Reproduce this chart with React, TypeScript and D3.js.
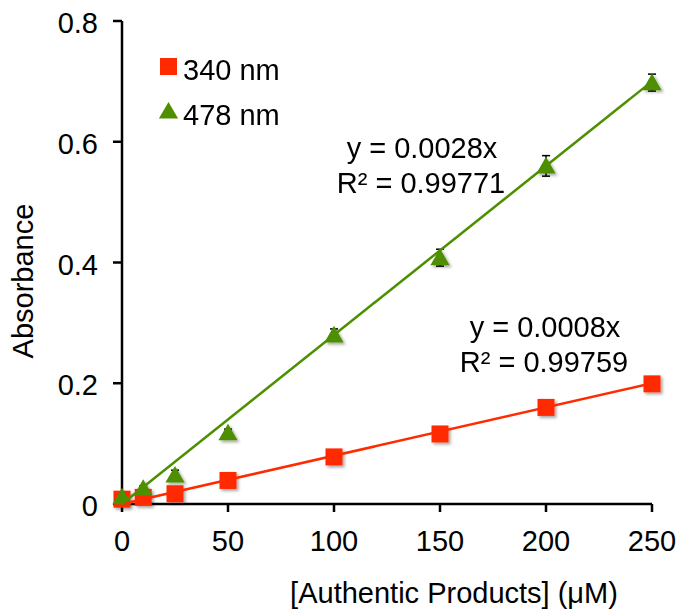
import React from "react";
import * as d3 from "d3";

// concentrations (µM)
const conc = [0, 10, 25, 50, 100, 150, 200, 250];
// absorbance at 340 nm
const abs340 = [0.008, 0.011, 0.017, 0.039, 0.078, 0.116, 0.16, 0.199];
const err340 = [0.002, 0.002, 0.002, 0.003, 0.003, 0.004, 0.004, 0.004];
// absorbance at 478 nm
const abs478 = [0.012, 0.026, 0.048, 0.118, 0.28, 0.408, 0.56, 0.698];
const err478 = [0.003, 0.004, 0.008, 0.006, 0.01, 0.014, 0.017, 0.014];

const slope340 = 0.0008;
const slope478 = 0.0028;

const xTicks = [0, 50, 100, 150, 200, 250];
const yTicks = [0, 0.2, 0.4, 0.6, 0.8];

const RED = "#ff2a00";
const GREEN = "#4e8f00";
const FONT = "'Liberation Sans', Arial, Helvetica, sans-serif";

const W = 680;
const H = 609;

const App = () => {
  const x = d3.scaleLinear().domain([0, 250]).range([122, 652]);
  const y = d3.scaleLinear().domain([0, 0.8]).range([504, 21]);

  const tri = d3.symbol().type(d3.symbolTriangle).size(160)();

  const fitLine = (slope: number) =>
    d3.line<number>()
      .x((d) => x(d))
      .y((d) => y(d * slope))([0, 250]) as string;

  // error bars go under the markers, so only the caps that stick out show
  const errBars = (vals: number[], errs: number[], key: string) =>
    conc.map((c, i) => {
      const cx = x(c);
      const top = y(vals[i] + errs[i]);
      const bot = y(vals[i] - errs[i]);
      return (
        <g key={key + i} stroke="#000" strokeWidth={1.5}>
          <line x1={cx} x2={cx} y1={top} y2={bot} />
          <line x1={cx - 4} x2={cx + 4} y1={top} y2={top} />
          <line x1={cx - 4} x2={cx + 4} y1={bot} y2={bot} />
        </g>
      );
    });

  return (
    <svg
      width={W}
      height={H}
      style={{ position: "absolute", left: 0, top: 0, background: "#fff" }}
      fontFamily={FONT}
    >
      <defs>
        <filter id="shadow" x="-50%" y="-50%" width="200%" height="200%">
          <feDropShadow dx="2" dy="2" stdDeviation="1.5" floodColor="#000" floodOpacity="0.35" />
        </filter>
      </defs>

      {/* axes */}
      <g stroke="#000" strokeWidth={2.5} fill="none">
        <line x1={x(0)} x2={x(0)} y1={y(0) + 1} y2={y(0.8)} />
        <line x1={x(0) - 1} x2={x(250)} y1={y(0)} y2={y(0)} />
        {yTicks.map((t) => (
          <line key={"yt" + t} x1={x(0) - 9} x2={x(0)} y1={y(t)} y2={y(t)} />
        ))}
        {xTicks.map((t) => (
          <line key={"xt" + t} x1={x(t)} x2={x(t)} y1={y(0)} y2={y(0) + 8} />
        ))}
      </g>

      <g fontSize={29} fill="#000">
        {yTicks.map((t) => (
          <text key={"yl" + t} x={98} y={y(t) + 12} textAnchor="end">
            {t === 0 ? "0" : d3.format(".1f")(t)}
          </text>
        ))}
        {xTicks.map((t) => (
          <text key={"xl" + t} x={x(t)} y={551} textAnchor="middle">
            {t}
          </text>
        ))}
        <text x={454} y={603} textAnchor="middle">
          [Authentic Products] (μM)
        </text>
        <text transform={`translate(33,281) rotate(-90)`} textAnchor="middle">
          Absorbance
        </text>
      </g>

      {errBars(abs340, err340, "e340")}
      {errBars(abs478, err478, "e478")}

      {/* markers */}
      <g filter="url(#shadow)">
        {conc.map((c, i) => (
          <rect key={"r" + i} x={x(c) - 8.5} y={y(abs340[i]) - 8.5} width={17} height={17} fill={RED} />
        ))}
        {conc.map((c, i) => (
          <path key={"g" + i} d={tri} transform={`translate(${x(c)},${y(abs478[i]) + 2})`} fill={GREEN} />
        ))}
      </g>

      {/* linear fits through origin */}
      <path d={fitLine(slope340)} stroke={RED} strokeWidth={2.5} fill="none" />
      <path d={fitLine(slope478)} stroke={GREEN} strokeWidth={2.5} fill="none" />

      {/* equations */}
      <g fontSize={29} fill="#000" textAnchor="middle">
        <text x={422} y={158}>y = 0.0028x</text>
        <text x={421} y={193}>R² = 0.99771</text>
        <text x={545} y={337}>y = 0.0008x</text>
        <text x={544} y={372}>R² = 0.99759</text>
      </g>

      {/* legend */}
      <rect x={160} y={58} width={17} height={17} fill={RED} />
      <path d={tri} transform="translate(168.5,113)" fill={GREEN} />
      <g fontSize={29} fill="#000">
        <text x={183} y={80}>340 nm</text>
        <text x={183} y={125}>478 nm</text>
      </g>
    </svg>
  );
};

export default App;
